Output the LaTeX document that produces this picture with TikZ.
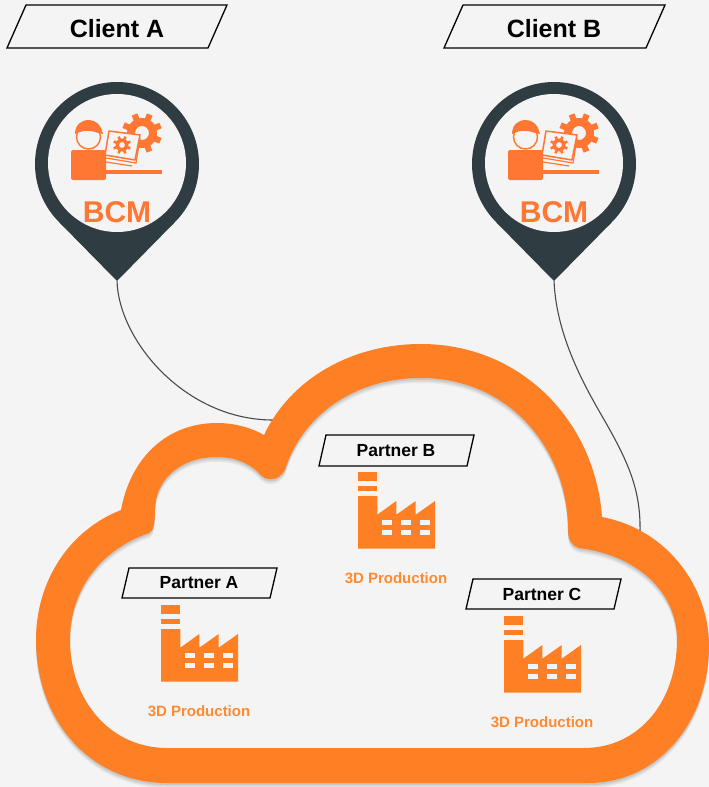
\documentclass[tikz,border=0pt]{standalone}
\usepackage{fontspec}
\setmainfont{Liberation Sans}
\usetikzlibrary{calc}
\definecolor{bgc}{HTML}{F4F4F4}
\definecolor{cloudc}{HTML}{FF7F24}
\definecolor{iconc}{HTML}{FF7733}
\definecolor{pinc}{HTML}{2F3C42}
\definecolor{linec}{HTML}{4A4A4A}
\definecolor{prodc}{HTML}{FF8A30}
\tikzset{
  tagbox/.style={draw=black,line width=1.3pt,fill=bgc,line join=miter},
  clienttext/.style={font=\bfseries\fontsize{25}{28}\selectfont,text=black,inner sep=0pt},
  partnertext/.style={font=\bfseries\fontsize{17.5}{20}\selectfont,text=black,inner sep=0pt},
  prodtext/.style={font=\bfseries\fontsize{15}{17}\selectfont,text=prodc,inner sep=0pt},
  bcmtext/.style={font=\bfseries\fontsize{30}{32}\selectfont,text=iconc,inner sep=0pt},
  wire/.style={draw=linec,line width=1.1pt},
  winrect/.style={fill=bgc,draw=none}
}
\newcommand{\cloudouter}{(121,510) .. controls (130,460) and (165,423) .. (217,423)
 .. controls (235,423) and (252,428) .. (264,435)
 .. controls (290,380) and (350,344) .. (421,344)
 .. controls (520,344) and (595,420) .. (602,517)
 .. controls (670,530) and (709,590) .. (709,645)
 .. controls (709,720) and (660,783) .. (588,783)
 -- (167,783) .. controls (90,783) and (36,720) .. (36,640)
 .. controls (36,580) and (70,530) .. (121,510) -- cycle}
\newcommand{\cloudinner}{(155,510) .. controls (155,480) and (180,457) .. (217,457)
 .. controls (235,457) and (248,463) .. (258,472)
 .. controls (265,482) and (278,482) .. (285,470)
 .. controls (300,420) and (350,378) .. (421,378)
 .. controls (510,378) and (568,450) .. (568,530)
 .. controls (568,540) and (572,546) .. (579,548)
 .. controls (635,555) and (677,590) .. (677,640)
 .. controls (677,700) and (640,748) .. (584,748)
 -- (167,748) .. controls (110,748) and (70,700) .. (70,640)
 .. controls (70,590) and (100,550) .. (149,533)
 .. controls (153,531) and (155,525) .. (155,510) -- cycle}
\newcommand{\gearshape}[5]{% x y inner outer hole
 \fill[iconc,even odd rule] (#1,#2) circle [radius=#3pt] (#1,#2) circle [radius=#5pt];
 \foreach \ang in {0,45,...,315}{
  \fill[iconc,rotate around={\ang+22:(#1,#2)}] ($(#1,#2)+(-0.2*#3,-#4)$) rectangle ($(#1,#2)+(0.2*#3,-0.85*#3)$);
 }}
\newcommand{\pin}[2]{% shift, name
\begin{scope}[shift={(#1,0)}]
 \fill[pinc] (117,164) circle [radius=82pt];
 \fill[pinc,rounded corners=1.5pt] (58.5,221.5) -- (117,281) -- (175.5,221.5) -- (117,180) -- cycle;
 \fill[bgc] (117,163) circle [radius=69pt];
 \fill[iconc,rounded corners=2pt] (71,180) rectangle (106,150);
 \draw[iconc,line width=1.4pt,fill=bgc] (88.5,137) circle [radius=12pt];
 \fill[iconc] (75,134) .. controls (75,125) and (81,120) .. (89,120) .. controls (96,120) and (101,125) .. (103,134) -- (98,133) .. controls (90,130) and (84,130) .. (77,133) -- cycle;
 \gearshape{142}{133}{15}{20}{7}
 \draw[iconc,line width=1.5pt,fill=bgc,line join=round] (109,131) -- (140,135) -- (135,160) -- (105,155) -- cycle;
 \draw[iconc,line width=1.2pt] (140,138) -- (136,163) -- (106,158);
 \draw[iconc,line width=1.2pt] (106,162) -- (132,166);
 \gearshape{122}{145}{6.5}{9}{3}
 \fill[iconc] (106,170) rectangle (162,173.5);
 \node[bcmtext] (#2) at (117,212) {BCM};
\end{scope}}
\newcommand{\factory}[4]{% x y name text
\begin{scope}[shift={(#1,#2)}]
 \fill[cloudc] (0,0) rectangle (19.3,9.3);
 \fill[cloudc] (0,14.3) rectangle (19.3,19);
 \fill[cloudc] (0,24) -- (19.3,24) -- (19.3,42.7) -- (38.3,29) -- (38.3,42.7) -- (57.7,29) -- (57.7,42.7) -- (77,29) -- (77,76.7) -- (0,76.7) -- cycle;
 \foreach \wx in {24,43,62}{
  \fill[winrect] (\wx,48.3) rectangle ++(9.7,5);
  \fill[winrect] (\wx,57.7) rectangle ++(9.7,5);
 }
 \node[prodtext] (#3) at (38,106) {#4};
\end{scope}}
\begin{document}
\begin{tikzpicture}[x=1pt,y=-1pt]
\useasboundingbox (0,0) rectangle (709,787);
\fill[bgc] (0,0) rectangle (709,787);
% connectors
\coordinate (tipa) at (117,280);
\coordinate (tipb) at (554,280);
\coordinate (clouda) at (273,420);
\coordinate (cloudb) at (640,532);
\draw[wire] (tipa) .. controls (118,340) and (185,420) .. (clouda);
\draw[wire] (tipb) .. controls (556,340) and (590,395) .. (606,423) .. controls (628,462) and (641,490) .. (cloudb);
% shadow
\foreach \dd/\op in {5/0.05,3.5/0.06,2/0.08}{
 \fill[black,opacity=\op,even odd rule,shift={(0,\dd)}] \cloudouter \cloudinner;
}
\fill[cloudc,even odd rule] \cloudouter \cloudinner;
% clients
\draw[tagbox] (26,5) -- (227,5) -- (208,48) -- (7,48) -- cycle;
\node[clienttext] (clienta) at (117,29) {Client A};
\draw[tagbox] (463,5) -- (665,5) -- (646,48) -- (444,48) -- cycle;
\node[clienttext] (clientb) at (554,29) {Client B};
\pin{0}{bcma}
\pin{437}{bcmb}
% partners
\draw[tagbox] (129,568) -- (277,568) -- (270,598) -- (122,598) -- cycle;
\node[partnertext] (partnera) at (199,583) {Partner A};
\draw[tagbox] (326,435) -- (474,435) -- (467,466) -- (319,466) -- cycle;
\node[partnertext] (partnerb) at (396,450.5) {Partner B};
\draw[tagbox] (473,579) -- (621,579) -- (614,609) -- (466,609) -- cycle;
\node[partnertext] (partnerc) at (542,594.5) {Partner C};
\factory{161}{605}{proda}{3D Production}
\factory{358}{472}{prodb}{3D Production}
\factory{504}{616}{prodc}{3D Production}
\end{tikzpicture}
\end{document}
